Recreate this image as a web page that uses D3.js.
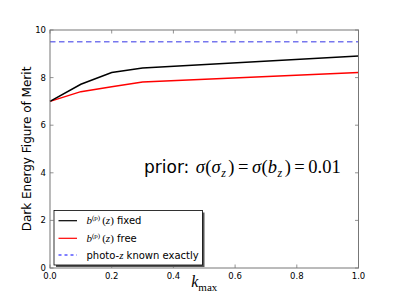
<!DOCTYPE html>
<html><head><meta charset="utf-8">
<script src="https://cdn.jsdelivr.net/npm/d3@7"></script>
<style>body{margin:0;background:#fff}svg{display:block}</style>
</head><body>
<script>
const kmax = [0.0, 0.1, 0.2, 0.3, 1.0];
const fomFixed = [7.0, 7.72, 8.21, 8.40, 8.91];
const fomFree = [7.0, 7.41, 7.62, 7.82, 8.21];
const fomExact = 9.51;
const xTicks = [0.0, 0.2, 0.4, 0.6, 0.8, 1.0];
const yTicks = [0, 2, 4, 6, 8, 10];

const W = 399, H = 299;
const m = {left: 50, right: 40.5, top: 30, bottom: 31};
const svg = d3.select("body").append("svg").attr("width", W).attr("height", H);
const x = d3.scaleLinear().domain([0, 1]).range([m.left, W - m.right]);
const y = d3.scaleLinear().domain([0, 10]).range([H - m.bottom, m.top]);

const spine = "#777";
const fs = "DejaVu Sans, sans-serif";
const serif = "Liberation Serif, serif";

// lines
const line = d3.line().x((d, i) => x(kmax[i])).y(d => y(d));
svg.append("line").attr("x1", x(0)).attr("x2", x(1)).attr("y1", y(fomExact)).attr("y2", y(fomExact))
  .attr("stroke", "#7777ee").attr("stroke-width", 1.5).attr("stroke-dasharray", "5.5,3.5");
svg.append("path").datum(fomFree).attr("d", line).attr("fill", "none").attr("stroke", "#ff0000").attr("stroke-width", 1.5);
svg.append("path").datum(fomFixed).attr("d", line).attr("fill", "none").attr("stroke", "#000").attr("stroke-width", 1.5);

// frame
svg.append("rect").attr("x", x(0)).attr("y", y(10)).attr("width", x(1) - x(0)).attr("height", y(0) - y(10))
  .attr("fill", "none").attr("stroke", spine).attr("stroke-width", 1);

// ticks (inward, both sides)
const tl = 3.5;
const gt = svg.append("g").attr("stroke", spine).attr("stroke-width", 0.8);
xTicks.forEach(t => {
  gt.append("line").attr("x1", x(t)).attr("x2", x(t)).attr("y1", y(0)).attr("y2", y(0) - tl);
  gt.append("line").attr("x1", x(t)).attr("x2", x(t)).attr("y1", y(10)).attr("y2", y(10) + tl);
});
yTicks.forEach(t => {
  gt.append("line").attr("x1", x(0)).attr("x2", x(0) + tl).attr("y1", y(t)).attr("y2", y(t));
  gt.append("line").attr("x1", x(1)).attr("x2", x(1) - tl).attr("y1", y(t)).attr("y2", y(t));
});
svg.append("g").selectAll("text").data(xTicks).join("text")
  .attr("x", d => x(d)).attr("y", y(0) + 10.5).attr("text-anchor", "middle")
  .attr("font-family", fs).attr("font-size", 8.5).text(d => d.toFixed(1));
svg.append("g").selectAll("text").data(yTicks).join("text")
  .attr("x", x(0) - 4).attr("y", d => y(d) + 3).attr("text-anchor", "end")
  .attr("font-family", fs).attr("font-size", 8.5).text(d => d);

// y label
svg.append("text").attr("transform", `translate(31,${(y(0) + y(10)) / 2}) rotate(-90)`)
  .attr("text-anchor", "middle").attr("font-family", fs).attr("font-size", 12).text("Dark Energy Figure of Merit");

// x label
const xl = svg.append("text").attr("x", (x(0) + x(1)) / 2).attr("y", 287).attr("text-anchor", "middle")
  .attr("font-family", serif).attr("font-size", 16);
xl.append("tspan").attr("font-style", "italic").text("k");
xl.append("tspan").attr("font-size", 11).attr("dy", 4).text("max");

// prior annotation
const pt = svg.append("text").attr("x", 144).attr("y", 173).attr("font-size", 17);
pt.append("tspan").attr("font-family", fs).text("prior: ");
function mt(s, it, extra) {
  const t = pt.append("tspan").attr("font-family", serif).attr("font-size", 18.5).text(s);
  if (it) t.attr("font-style", "italic");
  if (extra) extra(t);
  return t;
}
mt("σ", true, t => t.attr("dx", 1)); mt("(", false, t => t.attr("dx", 0.5)); mt("σ", true);
mt("z", true, t => t.attr("font-size", 12).attr("dy", 4).attr("dx", 0.5));
mt(")", false, t => t.attr("dy", -4).attr("dx", 2.5));
mt("=", false, t => t.attr("dx", 3.5)); mt("σ", true, t => t.attr("dx", 3.5)); mt("(", false, t => t.attr("dx", 0.5)); mt("b", true);
mt("z", true, t => t.attr("font-size", 12).attr("dy", 4).attr("dx", 0.5));
mt(")", false, t => t.attr("dy", -4).attr("dx", 2.5));
mt("=", false, t => t.attr("dx", 3.5)); mt("0.01", false, t => t.attr("dx", 3.5));

// legend
const lg = svg.append("g");
const lx = 54, ly = 210.5, lw = 148.5, lh = 54.5;
lg.append("rect").attr("x", lx + 2).attr("y", ly + 2).attr("width", lw).attr("height", lh).attr("fill", "#555");
lg.append("rect").attr("x", lx).attr("y", ly).attr("width", lw).attr("height", lh).attr("fill", "#fff").attr("stroke", "#000").attr("stroke-width", 0.8);
const items = [
  {c: "#000", dash: null, ys: 220.7},
  {c: "#ff0000", dash: null, ys: 238.3},
  {c: "#0000ff", dash: "3,3", ys: 255}
];
items.forEach(it => {
  const l = lg.append("line").attr("x1", 58.5).attr("x2", 77).attr("y1", it.ys).attr("y2", it.ys)
    .attr("stroke", it.c).attr("stroke-width", 1.2);
  if (it.dash) l.attr("stroke-dasharray", it.dash);
});
function bpz(ys, word) {
  const tx = lg.append("text").attr("x", 86.5).attr("y", ys + 3.5).attr("font-size", 10);
  tx.append("tspan").attr("font-family", serif).attr("font-size", 11).attr("font-style", "italic").text("b");
  tx.append("tspan").attr("font-family", serif).attr("font-size", 7).attr("dy", -4).text("(p)");
  tx.append("tspan").attr("font-family", serif).attr("font-size", 11).attr("dy", 4).attr("dx", 2).text("(");
  tx.append("tspan").attr("font-family", serif).attr("font-size", 11).attr("font-style", "italic").text("z");
  tx.append("tspan").attr("font-family", serif).attr("font-size", 11).text(")");
  tx.append("tspan").attr("font-family", fs).text(" " + word);
}
bpz(220.7, "fixed");
bpz(238.3, "free");
const t3 = lg.append("text").attr("x", 86.5).attr("y", 255 + 3.5).attr("font-size", 10);
t3.append("tspan").attr("font-family", fs).text("photo-");
t3.append("tspan").attr("font-family", serif).attr("font-size", 11).attr("font-style", "italic").text("z");
t3.append("tspan").attr("font-family", fs).text(" known exactly");
</script>
</body></html>
